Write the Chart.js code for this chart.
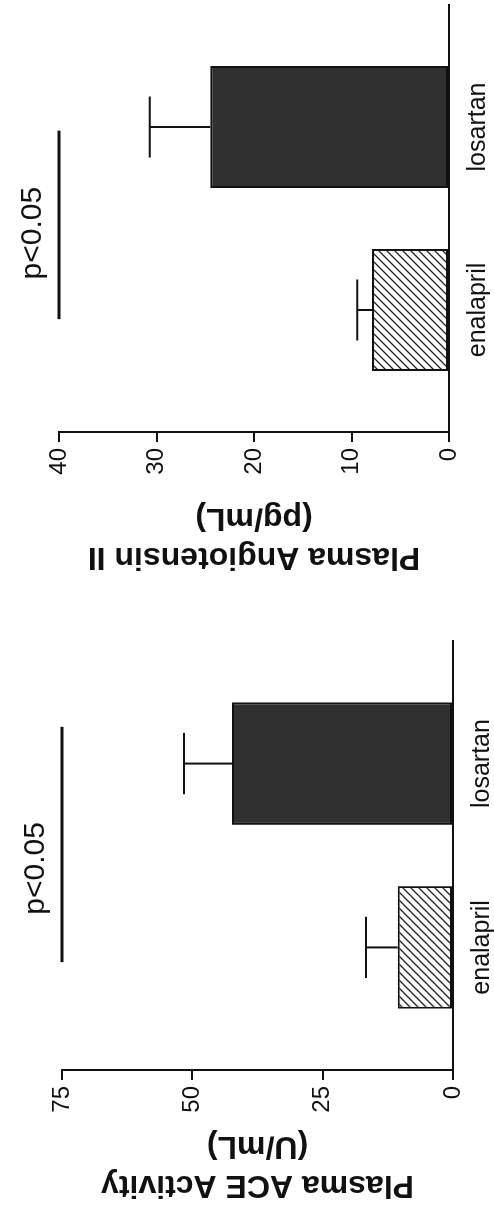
<!DOCTYPE html>
<html>
<head>
<meta charset="utf-8">
<script src="https://cdn.jsdelivr.net/npm/chart.js@4.4.1/dist/chart.umd.min.js"></script>
<style>
  html, body { margin: 0; padding: 0; background: #fff; }
  body { width: 494px; height: 1205px; position: relative; overflow: hidden; }
  .panel { position: absolute; left: 0; width: 494px; height: 600px; }
  /* each figure is laid out upright, then turned a quarter turn counter-clockwise */
  .rot { position: absolute; left: -53px; top: 53px; width: 600px; height: 494px;
         transform: rotate(-90deg); transform-origin: 50% 50%; }
  canvas { display: block; }
</style>
</head>
<body>
<div class="panel" style="top:0px"><div class="rot"><canvas id="angII" width="600" height="494"></canvas></div></div>
<div class="panel" style="top:605px"><div class="rot"><canvas id="ace" width="600" height="494"></canvas></div></div>
<script>
// treatment groups
const categories = ['enalapril', 'losartan'];

// Plasma angiotensin II (pg/mL): mean and SEM
const angIIMean = [7.9, 24.5];
const angIISem = [1.5, 6.2];
const angIITicks = [0, 10, 20, 30, 40];

// Plasma ACE activity (U/mL): mean and SEM
const aceMean = [10.6, 42.4];
const aceSem = [6.1, 9.2];
const aceTicks = [0, 25, 50, 75];

const pLabel = 'p<0.05';

const FONT = '"Liberation Sans", Arial, Helvetica, sans-serif';
const INK = '#111';

// diagonal hatch used for the enalapril bars
function hatchPattern() {
  const s = 8;
  const c = document.createElement('canvas');
  c.width = s; c.height = s;
  const g = c.getContext('2d');
  g.fillStyle = '#fff';
  g.fillRect(0, 0, s, s);
  g.strokeStyle = '#222';
  g.lineWidth = 1.3;
  g.beginPath();
  g.moveTo(0, s); g.lineTo(s, 0);
  g.moveTo(-1, 1); g.lineTo(1, -1);
  g.moveTo(s - 1, s + 1); g.lineTo(s + 1, s - 1);
  g.stroke();
  return g.createPattern(c, 'repeat');
}

// one-sided SEM whiskers and the significance label
const errorBars = {
  id: 'errorBars',
  afterDatasetsDraw(chart, args, opts) {
    const { ctx } = chart;
    const x = chart.scales.x, y = chart.scales.y;
    const meta = chart.getDatasetMeta(0);
    ctx.save();
    ctx.strokeStyle = INK;
    ctx.lineWidth = 2;
    meta.data.forEach((bar, i) => {
      const p = bar.getProps(['x', 'width'], true);
      const base = y.getPixelForValue(opts.mean[i]);
      const top = y.getPixelForValue(opts.mean[i] + opts.sem[i]);
      const half = p.width / 4;
      ctx.beginPath();
      ctx.moveTo(p.x, base); ctx.lineTo(p.x, top);
      ctx.moveTo(p.x - half, top); ctx.lineTo(p.x + half, top);
      ctx.stroke();
    });
    ctx.fillStyle = INK;
    ctx.font = '30px ' + FONT;
    ctx.textAlign = 'center';
    ctx.textBaseline = 'alphabetic';
    ctx.fillText(opts.label, x.getPixelForValue(opts.labelX), y.getPixelForValue(opts.sigValue) - 18);
    ctx.restore();
  }
};

function makePanel(id, p) {
  const ctx = document.getElementById(id).getContext('2d');
  return new Chart(ctx, {
    type: 'bar',
    data: {
      datasets: [
        {
          type: 'bar',
          data: categories.map((c, i) => ({ x: i + 1, y: p.mean[i] })),
          backgroundColor: [hatchPattern(), '#303030'],
          borderColor: INK,
          borderWidth: 2,
          borderSkipped: false,
          barPercentage: 2 / 3,
          categoryPercentage: 1,
          order: 2
        },
        {
          type: 'line',
          data: [{ x: p.sigFrom, y: p.sigValue }, { x: p.sigTo, y: p.sigValue }],
          borderColor: INK,
          borderWidth: 3,
          pointRadius: 0,
          clip: false,
          order: 1
        }
      ]
    },
    options: {
      responsive: false,
      animation: false,
      events: [],
      layout: { padding: { left: 0, top: p.top, right: p.right, bottom: 0 } },
      plugins: {
        legend: { display: false },
        tooltip: { enabled: false },
        errorBars: { mean: p.mean, sem: p.sem, label: pLabel, labelX: p.labelX, sigValue: p.sigValue }
      },
      scales: {
        x: {
          type: 'linear',
          offset: false,
          min: 1 / 3,
          max: 8 / 3,
          afterBuildTicks: s => { s.ticks = categories.map((c, i) => ({ value: i + 1 })); },
          afterFit: s => { s.height = p.xHeight; },
          grid: { display: false, drawTicks: false, offset: false },
          border: { display: true, color: INK, width: 2 },
          ticks: {
            color: INK,
            padding: 14,
            maxRotation: 0,
            autoSkip: false,
            font: { family: FONT, size: 25 },
            callback: v => categories[Math.round(v) - 1]
          }
        },
        y: {
          min: 0,
          max: p.ticks[p.ticks.length - 1],
          afterBuildTicks: s => { s.ticks = p.ticks.map(v => ({ value: v })); },
          afterFit: s => { s.width = p.left; },
          grid: { display: true, drawOnChartArea: false, drawTicks: true, tickLength: 10, color: INK, lineWidth: 2 },
          border: { display: true, color: INK, width: 2 },
          ticks: { color: INK, padding: 6, font: { family: FONT, size: 24 } },
          title: {
            display: true,
            text: p.title,
            color: INK,
            padding: { top: p.titlePad, bottom: 0 },
            font: { family: FONT, size: 32, weight: 'bold', lineHeight: 1.22 }
          }
        }
      }
    },
    plugins: [errorBars]
  });
}

makePanel('angII', {
  mean: angIIMean, sem: angIISem, ticks: angIITicks,
  title: ['Plasma Angiotensin II', '(pg/mL)'],
  left: 168, top: 59, right: 5, xHeight: 45, titlePad: 24,
  sigValue: 40, sigFrom: 0.95, sigTo: 1.98, labelX: 1.42
});

makePanel('ace', {
  mean: aceMean, sem: aceSem, ticks: aceTicks,
  title: ['Plasma ACE Activity', '(U/mL)'],
  left: 135, top: 62, right: 36, xHeight: 41, titlePad: 1,
  sigValue: 75, sigFrom: 0.92, sigTo: 2.2, labelX: 1.43
});
</script>
</body>
</html>
